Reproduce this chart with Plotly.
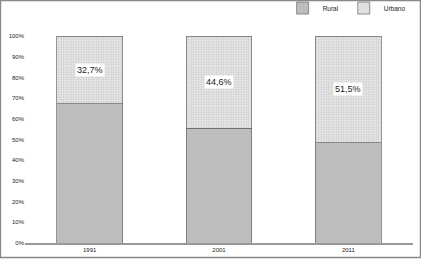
import plotly.graph_objects as go

years = ["1991", "2001", "2011"]
rural = [67.3, 55.4, 48.5]
urbano = [32.7, 44.6, 51.5]
urbano_labels = ["32,7%", "44,6%", "51,5%"]
y_ticks = [0, 10, 20, 30, 40, 50, 60, 70, 80, 90, 100]
y_tick_labels = [f"{v}%" for v in y_ticks]

FONT = "Liberation Sans"
TXT = "#222222"

fig = go.Figure()
fig.add_trace(go.Bar(
    x=years, y=rural, name="Rural",
    marker=dict(color="#bdbdbd", line=dict(color="#666666", width=0.7)),
))
fig.add_trace(go.Bar(
    x=years, y=urbano, name="Urbano",
    marker=dict(color="#ececec", line=dict(color="#666666", width=0.7),
                pattern=dict(shape=".", fgcolor="#a6a6a6", bgcolor="#ededed",
                             size=2.5, solidity=0.45)),
))

# label positions: category index (avoid numeric-string interpretation)
for i, (r, u, lab) in enumerate(zip(rural, urbano, urbano_labels)):
    fig.add_annotation(x=i, y=r + u / 2, text=lab, showarrow=False,
                       bgcolor="white", font=dict(size=9, color=TXT, family=FONT),
                       borderpad=1)

fig.add_shape(type="rect", xref="paper", yref="paper",
              x0=-0.0633, x1=1.0194, y0=-0.0700, y1=1.171,
              line=dict(color="#888888", width=1.5))

fig.update_layout(
    width=421, height=259,
    barmode="stack", bargap=0.49,
    plot_bgcolor="white", paper_bgcolor="white",
    margin=dict(l=25, r=8, t=36, b=16, autoexpand=False),
    font=dict(family=FONT, size=6, color=TXT),
    showlegend=True,
    legend=dict(orientation="h", x=0.664, y=1.135, xanchor="left", yanchor="middle",
                font=dict(size=6.5, color=TXT), traceorder="normal",
                bgcolor="rgba(0,0,0,0)"),
    xaxis=dict(type="category", showline=True, linecolor="#999999", linewidth=1.5,
               ticks="", tickfont=dict(size=6, color=TXT), showgrid=False, range=[-0.5, 2.5]),
    yaxis=dict(range=[0, 100], tickvals=y_ticks, ticktext=y_tick_labels,
               showgrid=False, zeroline=False, showline=False, ticks="",
               tickfont=dict(size=6, color=TXT)),
)

fig.write_html("out.html", config={"displayModeBar": False},
               post_script="document.body.style.margin='0';")
